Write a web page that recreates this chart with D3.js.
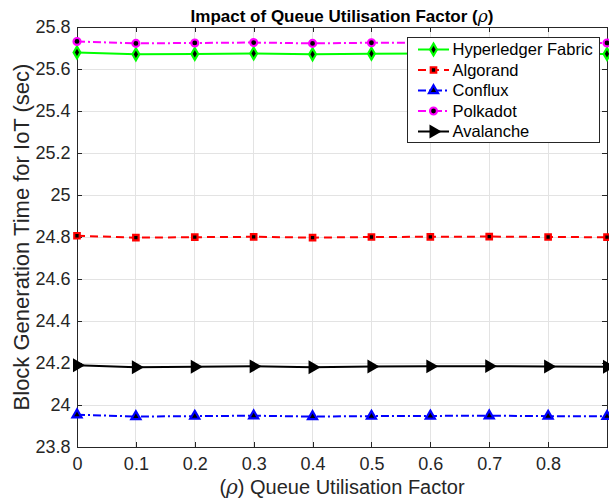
<!DOCTYPE html>
<meta charset="utf-8">
<style>
  body { margin: 0; background: #fff; font-family: "Liberation Sans", Arial, sans-serif; }
  .grid line { stroke: #e3e3e3; stroke-width: 1px; shape-rendering: crispEdges; }
  .axis text { font-size: 18px; fill: #262626; }
  .axis path, .axis line { stroke: #262626; shape-rendering: crispEdges; }
</style>
<body>
<div id="chart"></div>
<script src="https://d3js.org/d3.v7.min.js"></script>
<script>
  // data
  var rho = [0, 0.1, 0.2, 0.3, 0.4, 0.5, 0.6, 0.7, 0.8, 0.9];
  var hyperledger = [25.679, 25.670, 25.672, 25.674, 25.670, 25.673, 25.674, 25.675, 25.673, 25.672];
  var algorand    = [24.806, 24.797, 24.799, 24.801, 24.797, 24.800, 24.801, 24.802, 24.800, 24.799];
  var conflux     = [23.954, 23.945, 23.947, 23.949, 23.945, 23.947, 23.948, 23.949, 23.947, 23.946];
  var polkadot    = [25.731, 25.722, 25.724, 25.726, 25.722, 25.725, 25.726, 25.727, 25.725, 25.724];
  var avalanche   = [24.189, 24.180, 24.182, 24.184, 24.180, 24.183, 24.184, 24.185, 24.183, 24.182];
  var seriesNames = ["Hyperledger Fabric", "Algorand", "Conflux", "Polkadot", "Avalanche"];
  var xTicks = [0, 0.1, 0.2, 0.3, 0.4, 0.5, 0.6, 0.7, 0.8];
  var yTicks = [23.8, 24, 24.2, 24.4, 24.6, 24.8, 25, 25.2, 25.4, 25.6, 25.8];

  var series = [
    { name: seriesNames[0], values: hyperledger, color: "#00ff00", dash: null, sym: d3.symbolDiamond, rot: 0, size: 40 },
    { name: seriesNames[1], values: algorand, color: "#ff0000", dash: "8,5", sym: d3.symbolSquare, rot: 0, size: 30 },
    { name: seriesNames[2], values: conflux, color: "#0000ff", dash: "8,3,2,3", sym: d3.symbolTriangle, rot: 0, size: 36 },
    { name: seriesNames[3], values: polkadot, color: "#ff00ff", dash: "8,3,2,3", sym: d3.symbolCircle, rot: 0, size: 38 },
    { name: seriesNames[4], values: avalanche, color: "#000000", dash: null, sym: d3.symbolTriangle, rot: 90, size: 44 }
  ];

  var W = 609, H = 499;
  var margin = { top: 27, right: 2, bottom: 52, left: 77 };
  var width = W - margin.left - margin.right,
      height = H - margin.top - margin.bottom;

  var svg = d3.select("#chart").append("svg")
    .attr("width", W)
    .attr("height", H);

  var g = svg.append("g")
    .attr("transform", "translate(" + margin.left + "," + margin.top + ")");

  var x = d3.scaleLinear().domain([0, 0.9]).range([0, width]);
  var y = d3.scaleLinear().domain([23.8, 25.8]).range([height, 0]);

  // grid
  g.append("g").attr("class", "grid")
    .selectAll("line.v").data(xTicks.concat([0.9])).enter().append("line")
    .attr("x1", function(d) { return x(d); }).attr("x2", function(d) { return x(d); })
    .attr("y1", 0).attr("y2", height);
  g.append("g").attr("class", "grid")
    .selectAll("line.h").data(yTicks).enter().append("line")
    .attr("y1", function(d) { return y(d); }).attr("y2", function(d) { return y(d); })
    .attr("x1", 0).attr("x2", width);

  // axes (ticks inward, MATLAB style)
  var xAxis = d3.axisBottom(x).tickValues(xTicks).tickSizeInner(-5).tickSizeOuter(0)
    .tickFormat(function(d) { return d === 0 ? "0" : d3.format(".1f")(d); });
  var yAxis = d3.axisLeft(y).tickValues(yTicks).tickSizeInner(-5).tickSizeOuter(0)
    .tickFormat(function(d) { return d3.format("~g")(d); });

  g.append("g").attr("class", "x axis")
    .attr("transform", "translate(0," + height + ")")
    .call(xAxis)
    .selectAll("text").attr("dy", "1.1em");
  g.append("g").attr("class", "y axis")
    .call(yAxis)
    .selectAll("text").attr("x", -6.5);
  g.append("g").attr("class", "axis")
    .call(d3.axisTop(x).tickValues(xTicks).tickSizeInner(-5).tickSizeOuter(0).tickFormat(""));
  g.append("g").attr("class", "axis")
    .attr("transform", "translate(" + width + ",0)")
    .call(d3.axisRight(y).tickValues(yTicks).tickSizeInner(-5).tickSizeOuter(0).tickFormat(""));

  // lines
  var line = d3.line()
    .x(function(d, i) { return x(rho[i]); })
    .y(function(d) { return y(d); });

  series.forEach(function(s) {
    g.append("path")
      .datum(s.values)
      .attr("d", line)
      .attr("fill", "none")
      .attr("stroke", s.color)
      .attr("stroke-width", 2)
      .attr("stroke-dasharray", s.dash);

    g.selectAll(null).data(s.values).enter().append("path")
      .attr("d", d3.symbol().type(s.sym).size(s.size))
      .attr("transform", function(d, i) {
        return "translate(" + x(rho[i]) + "," + y(d) + ") rotate(" + s.rot + ")";
      })
      .attr("fill", "#000")
      .attr("stroke", s.color)
      .attr("stroke-width", 2.2);
  });

  // title + axis labels
  var title = svg.append("text")
    .attr("x", margin.left + width / 2).attr("y", 22)
    .attr("text-anchor", "middle")
    .style("font-size", "17px").style("font-weight", "bold")
    .style("fill", "#000");
  title.append("tspan").text("Impact of Queue Utilisation Factor (");
  title.append("tspan").text("ρ").style("font-style", "italic").style("font-weight", "normal")
    .style("font-family", "'DejaVu Serif', serif");
  title.append("tspan").text(")");

  var xl = svg.append("text")
    .attr("x", margin.left + width / 2).attr("y", 494)
    .attr("text-anchor", "middle")
    .style("font-size", "20px").style("fill", "#262626");
  xl.append("tspan").text("(");
  xl.append("tspan").text("ρ").style("font-style", "italic").style("font-family", "'DejaVu Serif', serif");
  xl.append("tspan").text(") Queue Utilisation Factor");

  svg.append("text")
    .attr("transform", "translate(29," + (margin.top + height / 2) + ") rotate(-90)")
    .attr("text-anchor", "middle")
    .style("font-size", "22px").style("fill", "#262626")
    .text("Block Generation Time for IoT (sec)");

  // legend
  var leg = svg.append("g").attr("transform", "translate(407,37)");
  leg.append("rect")
    .attr("width", 192).attr("height", 105)
    .attr("fill", "#fff").attr("stroke", "#262626").attr("stroke-width", 1)
    .attr("shape-rendering", "crispEdges");
  series.forEach(function(s, i) {
    var row = leg.append("g").attr("transform", "translate(0," + (12.5 + i * 20.5) + ")");
    row.append("line")
      .attr("x1", 11).attr("x2", 42)
      .attr("stroke", s.color).attr("stroke-width", 2)
      .attr("stroke-dasharray", s.dash);
    row.append("path")
      .attr("d", d3.symbol().type(s.sym).size(s.size))
      .attr("transform", "translate(26.5,0) rotate(" + s.rot + ")")
      .attr("fill", "#000").attr("stroke", s.color).attr("stroke-width", 2.2);
    row.append("text")
      .attr("x", 45.5).attr("dy", "0.36em")
      .style("font-size", "16.5px").style("fill", "#000")
      .text(s.name);
  });
</script>
</body>
